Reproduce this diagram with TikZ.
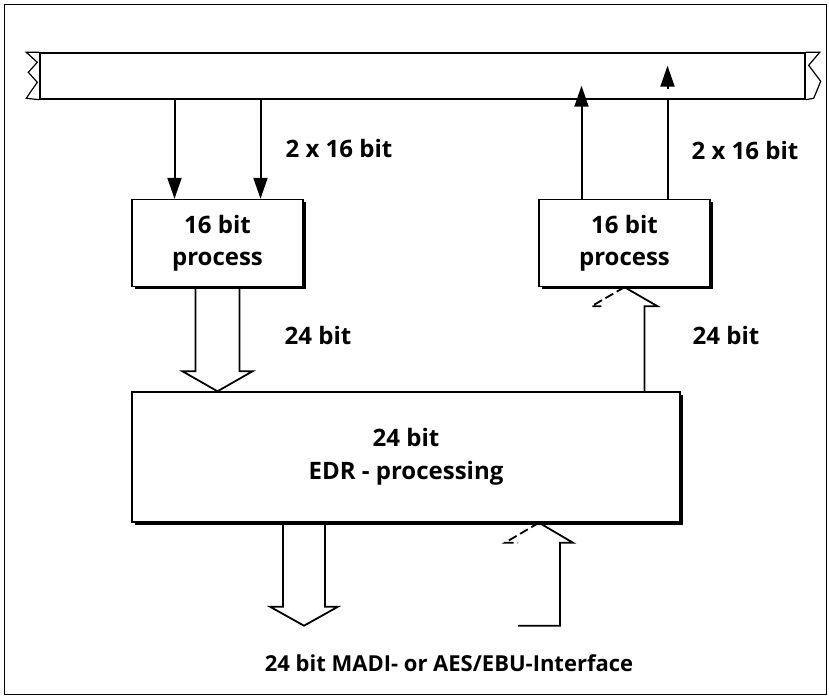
\documentclass[tikz,border=0pt]{standalone}
\usepackage{fontspec}
\setmainfont{Open Sans}
\usetikzlibrary{arrows.meta,shadows,calc}

\tikzset{
	procbox/.style={draw,fill=white,line width=1.4pt,minimum width=171pt,minimum height=87pt,align=center,
		font=\bfseries\fontsize{24}{32}\selectfont,
		general shadow={fill=black,shadow xshift=2.5pt,shadow yshift=-2.5pt}},
	lbl/.style={font=\bfseries\fontsize{24}{30}\selectfont},
	wire/.style={line width=2pt},
	tip/.style={-{Triangle[length=21pt,width=14pt]}},
	hollow/.style={line width=1.8pt,line join=miter},
	halfdash/.style={hollow,dash pattern=on 9pt off 4pt}
}

\begin{document}
\begin{tikzpicture}[x=1pt,y=-1pt]

	\useasboundingbox (0,0) rectangle (829,697);

	% draw outline
	\draw[line width=0.9pt] (4,4) rectangle (826,694);

	% bus with torn ends
	\node[draw,fill=white,line width=1.4pt,minimum width=765pt,minimum height=46pt,inner sep=0pt] (bus) at (422.5,76) {};
	\draw[line width=1.2pt] (bus.north west) -- ++(-13,0) -- ++(11,10) -- ++(-9,10) -- ++(9,10) -- ++(-7,10) -- ++(-4,6) -- (bus.south west);
	\draw[line width=1.2pt] (bus.north east) -- ++(14,0) -- ++(-11,13) -- ++(12,16) -- ++(-7,17) -- (bus.south east);

	% process boxes
	\node[procbox] (in16) at (217.5,243) {16 bit\\process};
	\node[procbox] (out16) at (624.5,243) {16 bit\\process};
	\node[procbox,minimum width=548pt,minimum height=130pt,font=\bfseries\fontsize{24}{33}\selectfont] (edr) at (406,457) {24 bit\\EDR - processing};

	% 16 bit lines
	\path (in16.north) ++(-43,0) coordinate (inA) ++(86,0) coordinate (inB);
	\path (out16.north) ++(-43,0) coordinate (outA) ++(86,0) coordinate (outB);
	\draw[wire,tip] (bus.south -| inA) -- (inA);
	\draw[wire,tip] (bus.south -| inB) -- (inB);
	\draw[wire,tip] (outA) -- ($(outA |- bus.south)+(0,-14)$);
	\draw[wire] (outB) -- (outB |- bus.south);
	\draw[wire,tip] ($(outB |- bus.south)+(0,-11)$) -- ++(0,-23);

	% 24 bit arrows
	\coordinate (hA) at (in16.south |- edr.north);
	\draw[hollow] ($(hA)+(-22,-105)$) -- ++(0,85) -- ++(-13,0) -- (hA) -- ++(35,-20) -- ++(-13,0) -- ++(0,-85);

	\coordinate (hB) at ($(edr.south)+(-102,103)$);
	\draw[hollow] ($(hB)+(-21,-103)$) -- ++(0,84) -- ++(-13,0) -- (hB) -- ++(34,-19) -- ++(-13,0) -- ++(0,-84);

	\draw[hollow] (out16.south) -- ++(33,19) -- ++(-13,0) coordinate (rr) -- (rr |- edr.north);
	\draw[halfdash] (out16.south) -- ++(-33,19) -- ++(13,0);

	\coordinate (hC) at ($(edr.south)+(133,0)$);
	\draw[hollow] (hC) -- ++(34,20) -- ++(-13,0) -- ++(0,83) -- ++(-42,0);
	\draw[halfdash] (hC) -- ++(-34,20) -- ++(13,0);

	% labels
	\node[lbl] (in16lbl) at (339,148) {2 x 16 bit};
	\node[lbl] (out16lbl) at (745,150) {2 x 16 bit};
	\node[lbl] (in24lbl) at (318,335) {24 bit};
	\node[lbl] (out24lbl) at (726,335) {24 bit};
	\node[lbl,font=\bfseries\fontsize{22}{28}\selectfont] (ifacelbl) at (449,663) {24 bit MADI- or AES/EBU-Interface};

\end{tikzpicture}
\end{document}
